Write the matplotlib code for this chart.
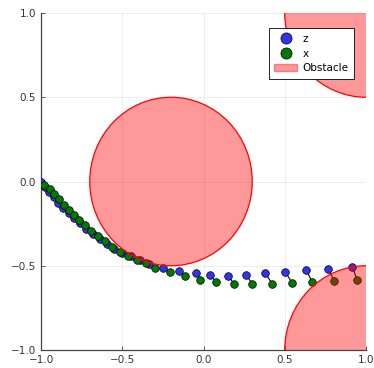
import matplotlib.pyplot as plt
from matplotlib.patches import Circle, Patch
from matplotlib.lines import Line2D

# planned states z and executed states x
z_x = [-1.000, -0.975, -0.950, -0.922, -0.893, -0.862, -0.830, -0.796, -0.760, -0.722,
       -0.682, -0.640, -0.596, -0.550, -0.500, -0.446, -0.390, -0.335, -0.250, -0.150,
       -0.045, 0.041, 0.152, 0.263, 0.380, 0.503, 0.632, 0.768, 0.916]
z_y = [0.000, -0.030, -0.060, -0.092, -0.125, -0.157, -0.188, -0.218, -0.248, -0.280,
       -0.310, -0.340, -0.372, -0.400, -0.422, -0.444, -0.465, -0.490, -0.513, -0.531,
       -0.543, -0.555, -0.561, -0.555, -0.543, -0.537, -0.525, -0.519, -0.507]
x_x = [-0.980, -0.945, -0.918, -0.890, -0.861, -0.830, -0.798, -0.764, -0.728, -0.690,
       -0.650, -0.607, -0.563, -0.516, -0.466, -0.411, -0.355, -0.298, -0.205, -0.113,
       -0.021, 0.078, 0.189, 0.300, 0.423, 0.546, 0.669, 0.805, 0.946]
x_y = [-0.018, -0.044, -0.073, -0.104, -0.137, -0.169, -0.200, -0.231, -0.261, -0.293,
       -0.324, -0.355, -0.387, -0.416, -0.440, -0.463, -0.486, -0.513, -0.537, -0.561,
       -0.585, -0.596, -0.608, -0.608, -0.608, -0.602, -0.596, -0.591, -0.585]

# obstacles: (cx, cy, r)
obstacles = [(-0.2, 0.0, 0.5), (1.0, 1.0, 0.5), (1.0, -1.0, 0.5)]

fig = plt.figure(figsize=(3.74, 3.68), dpi=100)
ax = fig.add_axes([41 / 374, 18 / 368, 325 / 374, 337 / 368])

for a, b, c, d in zip(z_x, z_y, x_x, x_y):
    ax.plot([a, c], [b, d], color='black', lw=0.8, zorder=2)

ax.plot(z_x, z_y, 'o', color='#3333ee', mec='black', mew=0.5, ms=5.5, zorder=3)
ax.plot(x_x, x_y, 'o', color='#007a00', mec='black', mew=0.5, ms=5.5, zorder=3)

for cx, cy, r in obstacles:
    ax.add_patch(Circle((cx, cy), r, facecolor=(1, 0, 0, 0.4), edgecolor='red', lw=0.9, zorder=4))

ax.set_xlim(-1, 1)
ax.set_ylim(-1, 1)
ax.set_xticks([-1.0, -0.5, 0.0, 0.5, 1.0])
ax.set_yticks([-1.0, -0.5, 0.0, 0.5, 1.0])
ax.grid(True, color='#000000', alpha=0.08, lw=0.6)
ax.set_axisbelow(True)
for s in ['top', 'right']:
    ax.spines[s].set_visible(False)
for s in ['left', 'bottom']:
    ax.spines[s].set_color('#444444')
    ax.spines[s].set_linewidth(0.9)
ax.tick_params(direction='in', length=3, width=0.6, color='#444444', labelsize=7.5, labelcolor='#333333')

handles = [
    Line2D([], [], marker='o', ls='none', color='#3333ee', mec='black', mew=0.5, ms=8),
    Line2D([], [], marker='o', ls='none', color='#007a00', mec='black', mew=0.5, ms=8),
    Patch(facecolor=(1, 0, 0, 0.4), edgecolor=(1, 0, 0, 0.4)),
]
leg = ax.legend(handles, ['z', 'x', 'Obstacle'], loc='upper right', bbox_to_anchor=(0.98, 0.97),
                fontsize=7.5, fancybox=False, framealpha=1, edgecolor='black',
                handlelength=2.2, handletextpad=0.5, borderpad=0.55, labelspacing=0.45)
leg.get_frame().set_linewidth(0.6)
leg.set_zorder(10)

plt.savefig('out.png', dpi=100)
